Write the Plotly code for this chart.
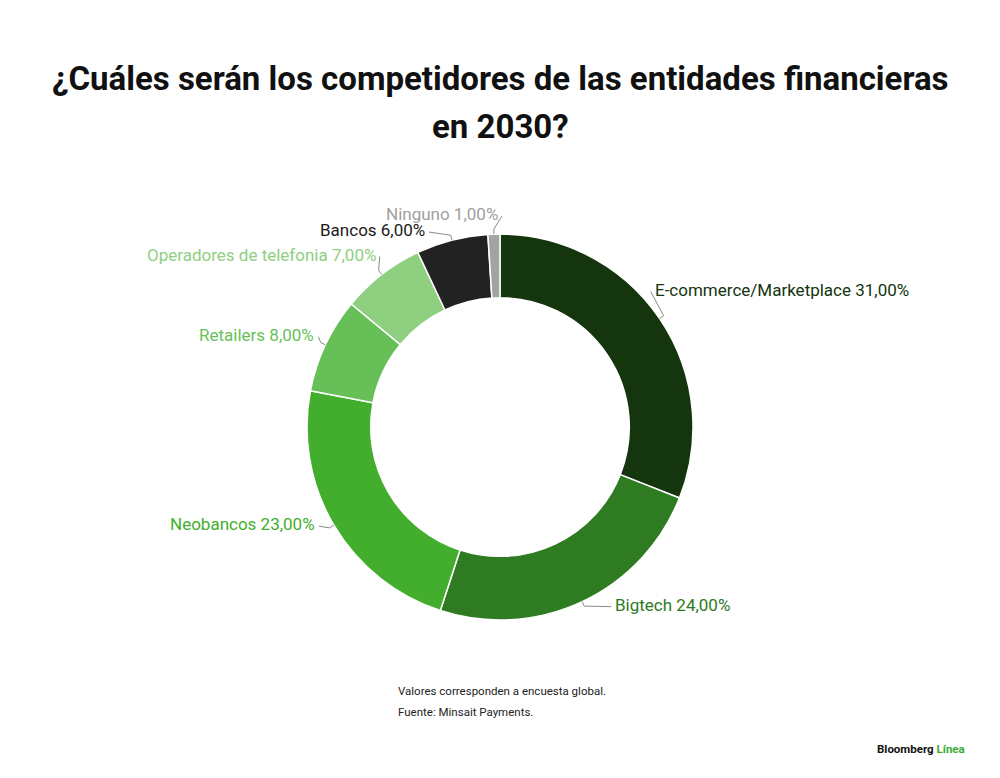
import numpy as np
import plotly.graph_objects as go

# Datos de la encuesta (porcentaje)
categorias = ["E-commerce/Marketplace", "Bigtech", "Neobancos", "Retailers",
              "Operadores de telefonia", "Bancos", "Ninguno"]
valores = [31, 24, 23, 8, 7, 6, 1]
colores = ["#14350e", "#2e7b22", "#43ae2d", "#67bf58", "#8ecf80", "#222222", "#a3a3a3"]
colores_texto = ["#14350e", "#2e7b22", "#43ae2d", "#67bf58", "#8ecf80", "#1a1a1a", "#a0a0a0"]

# donde va cada etiqueta respecto al borde del sector (px) y de que lado
desplaz = [(-7, -29), (31, 3), (-17, -1), (-9, -10), (-4, -20), (-25, -10), (6, -20)]
lado = ["left", "left", "right", "right", "right", "right", "right"]

W, H = 1000, 778
OFF = 8  # margen del body de la pagina
cx, cy, R = 500, 427, 193

def px(x, y):
    return (x - OFF) / W, 1 - (y - OFF) / H

fig = go.Figure()
x0d, y1d = px(cx - R, cy - R)
x1d, y0d = px(cx + R, cy + R)
fig.add_trace(
    go.Pie(
        labels=categorias,
        values=valores,
        hole=0.67,
        sort=False,
        direction="clockwise",
        rotation=0,
        textinfo="none",
        hoverinfo="label+percent",
        marker=dict(colors=colores, line=dict(color="white", width=1.5)),
        domain=dict(x=[x0d, x1d], y=[y0d, y1d]),
        showlegend=False,
    )
)

total = sum(valores)
acum = np.cumsum([0] + valores[:-1])
for i, cat in enumerate(categorias):
    ang = np.radians((acum[i] + valores[i] / 2) / total * 360)
    ex = cx + R * np.sin(ang)
    ey = cy - R * np.cos(ang)
    dx, dy = desplaz[i]
    tx, ty = ex + dx, ey + dy
    # linea guia con un quiebre
    mx = ex + 5 * np.sin(ang)
    my = ey - 5 * np.cos(ang)
    x0, y0 = px(ex, ey)
    x1, y1 = px(mx, my)
    x2, y2 = px(tx + (-2 if lado[i] == "left" else 2), ty + 2)
    fig.add_shape(
        type="path", xref="paper", yref="paper",
        path=f"M {x0} {y0} L {x1} {y1} L {x2} {y2}",
        line=dict(color="#8a8a8a", width=1),
    )
    etiqueta = f"{cat} {valores[i]:.2f}%".replace(".", ",")
    ax_, ay_ = px(tx, ty)
    fig.add_annotation(
        x=ax_, y=ay_, xref="paper", yref="paper",
        text=etiqueta, showarrow=False,
        xanchor=lado[i], yanchor="middle",
        font=dict(family="Roboto", size=17, color=colores_texto[i]),
    )

# titulo
for txt, yy in [("¿Cuáles serán los competidores de las entidades financieras", 79),
                ("en 2030?", 126)]:
    xt, yt = px(500, yy)
    fig.add_annotation(
        x=xt, y=yt, xref="paper", yref="paper", showarrow=False,
        text=f"<b>{txt}</b>", xanchor="center", yanchor="middle",
        font=dict(family="Roboto", size=33, color="#111111"),
    )

# notas
for txt, yy in [("Valores corresponden a encuesta global.", 691),
                ("Fuente: Minsait Payments.", 712)]:
    xt, yt = px(396, yy)
    fig.add_annotation(
        x=xt, y=yt, xref="paper", yref="paper", showarrow=False,
        text=txt, xanchor="left", yanchor="middle",
        font=dict(family="Roboto", size=11.5, color="#222222"),
    )

xt, yt = px(967, 749)
fig.add_annotation(
    x=xt, y=yt, xref="paper", yref="paper", showarrow=False,
    text="<b>Bloomberg</b> <b><span style='color:#3aaa35'>Línea</span></b>",
    xanchor="right", yanchor="middle",
    font=dict(family="Roboto", size=11.5, color="#111111"),
)

fig.update_layout(
    width=W, height=H,
    margin=dict(l=0, r=0, t=0, b=0),
    paper_bgcolor="white", plot_bgcolor="white",
)

fig.write_html("out.html")
